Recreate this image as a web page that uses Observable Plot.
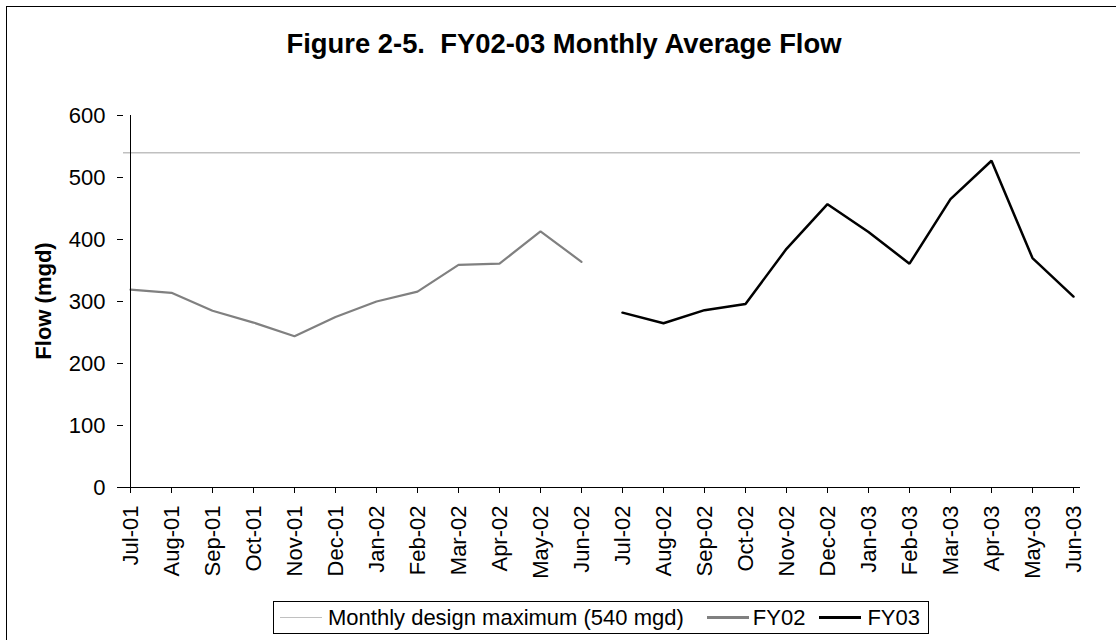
<!DOCTYPE html>
<html>
<head>
<meta charset="utf-8">
<script src="https://cdn.jsdelivr.net/npm/d3@7"></script>
<script src="https://cdn.jsdelivr.net/npm/@observablehq/plot@0.6"></script>
<style>
  body { margin: 0; background: #fff; font-family: "Liberation Sans", Arial, sans-serif; }
  #wrap { position: relative; width: 1116px; height: 640px; overflow: hidden; background: #fff; }
  #frame { position: absolute; left: 6px; top: 6px; width: 1130px; height: 660px; border: 1px solid #000; box-sizing: border-box; }
  #title { position: absolute; left: 564px; top: 30px; transform: translateX(-50%); font-weight: bold; font-size: 27.4px; line-height: 1; white-space: pre; color: #000; }
  #ylabel { position: absolute; left: 43.5px; top: 301px; transform: translate(-50%, -50%) rotate(-90deg); font-weight: bold; font-size: 22px; line-height: 1.15; white-space: nowrap; color: #000; }
  #chart { position: absolute; left: 0; top: 0; }
  #legend { position: absolute; left: 273px; top: 601px; width: 656px; height: 33px; border: 1px solid #000; box-sizing: border-box; display: flex; align-items: center; font-size: 22px; color: #000; background: #fff; white-space: nowrap; }
  .sw { display: inline-block; width: 42px; }
</style>
</head>
<body>
<div id="wrap">
  <div id="frame"></div>
  <div id="chart"></div>
  <div id="title"></div>
  <div id="ylabel"></div>
  <div id="legend"></div>
</div>
<script>
const titleText = "Figure 2-5.  FY02-03 Monthly Average Flow";
const yLabel = "Flow (mgd)";
const months = ["Jul-01","Aug-01","Sep-01","Oct-01","Nov-01","Dec-01","Jan-02","Feb-02","Mar-02","Apr-02","May-02","Jun-02",
                "Jul-02","Aug-02","Sep-02","Oct-02","Nov-02","Dec-02","Jan-03","Feb-03","Mar-03","Apr-03","May-03","Jun-03"];
const fy02Months = months.slice(0, 12);
const fy03Months = months.slice(12);
const fy02 = [319, 314, 285, 266, 244, 275, 300, 316, 359, 361, 413, 364];
const fy03 = [282, 265, 286, 296, 385, 457, 412, 361, 465, 527, 370, 308];
const designMax = 540;
const yTicks = [0, 100, 200, 300, 400, 500, 600];
const legendLabels = ["Monthly design maximum (540 mgd)", "FY02", "FY03"];
const colors = { design: "#c0c0c0", fy02: "#808080", fy03: "#000000" };

const fy02Data = fy02Months.map((m, i) => ({ month: m, flow: fy02[i] }));
const fy03Data = fy03Months.map((m, i) => ({ month: m, flow: fy03[i] }));

const chart = Plot.plot({
  width: 1116,
  height: 600,
  marginTop: 115,
  marginBottom: 113,
  marginLeft: 123,
  marginRight: 36,
  style: { background: "transparent", fontFamily: "Liberation Sans, Arial, sans-serif", fontSize: "22px", color: "#000", overflow: "visible" },
  x: { type: "point", domain: months, padding: 0 },
  y: { domain: [0, 600] },
  marks: [
    Plot.ruleY([designMax], { stroke: colors.design, strokeWidth: 1.5 }),
    Plot.line(fy02Data, { x: "month", y: "flow", stroke: colors.fy02, strokeWidth: 2.2, strokeLinejoin: "miter" }),
    Plot.line(fy03Data, { x: "month", y: "flow", stroke: colors.fy03, strokeWidth: 2.5, strokeLinejoin: "miter" }),
    Plot.ruleX([months[0]], { y1: 0, y2: 600, stroke: "#000", strokeWidth: 1 }),
    Plot.ruleY([0], { stroke: "#000", strokeWidth: 1 }),
    Plot.axisY({ ticks: yTicks, tickSize: 6, tickPadding: 12, label: null, fontSize: 22 }),
    Plot.axisX({ tickSize: 6, tickRotate: -90, tickPadding: 12, label: null, fontSize: 22 })
  ]
});
document.getElementById("chart").appendChild(chart);
document.getElementById("title").textContent = titleText;
document.getElementById("ylabel").textContent = yLabel;

const legend = document.getElementById("legend");
const items = [
  { label: legendLabels[0], color: colors.design, w: 1.5, pre: 6, gap: 6 },
  { label: legendLabels[1], color: colors.fy02, w: 2.5, pre: 23, gap: 4 },
  { label: legendLabels[2], color: colors.fy03, w: 2.5, pre: 14, gap: 6 }
];
items.forEach(it => {
  const sw = document.createElement("span");
  sw.className = "sw";
  sw.style.marginLeft = it.pre + "px";
  sw.style.marginRight = it.gap + "px";
  sw.style.height = it.w + "px";
  sw.style.background = it.color;
  legend.appendChild(sw);
  const t = document.createElement("span");
  t.textContent = it.label;
  legend.appendChild(t);
});
</script>
</body>
</html>
